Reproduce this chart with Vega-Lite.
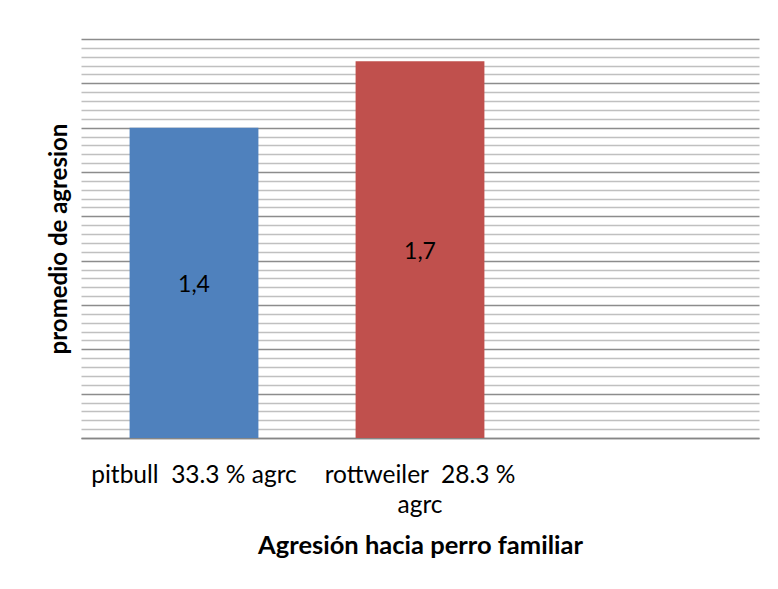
{
  "$schema": "https://vega.github.io/schema/vega-lite/v6.json",
  "autosize": {"type": "none"},
  "padding": {"left": 81, "top": 39, "right": 19, "bottom": 151},
  "width": 678,
  "height": 399,
  "background": "white",
  "config": {
    "view": {"stroke": null},
    "font": "Lato"
  },
  "data": {
    "values": [
      {"cat": "pitbull\u00a0 33.3 % agrc", "value": 1.4},
      {"cat": "rottweiler\u00a0 28.3 % agrc", "value": 1.7}
    ]
  },
  "transform": [
    {"calculate": "datum.value / 2", "as": "mid"},
    {"calculate": "replace(format(datum.value, '.1f'), '.', ',')", "as": "lbl"}
  ],
  "encoding": {
    "x": {
      "field": "cat",
      "type": "nominal",
      "sort": null,
      "scale": {
        "domain": ["pitbull\u00a0 33.3 % agrc", "rottweiler\u00a0 28.3 % agrc", " "],
        "paddingInner": 0.43,
        "paddingOuter": 0.215
      },
      "axis": {
        "title": "Agresión hacia perro familiar",
        "titleFont": "Lato",
        "titleFontSize": 25.5,
        "titleFontWeight": "bold",
        "titleColor": "#000000",
        "titlePadding": 17,
        "labelAngle": 0,
        "labelFont": "Lato",
        "labelFontSize": 24.5,
        "labelColor": "#000000",
        "labelPadding": 25,
        "labelLineHeight": 30,
        "labelLimit": 0,
        "labelExpr": "datum.value == 'rottweiler\u00a0 28.3 % agrc' ? ['rottweiler\u00a0 28.3 %', 'agrc'] : datum.value",
        "ticks": false,
        "domain": true,
        "domainColor": "#868686",
        "domainWidth": 1.5,
        "grid": false
      }
    }
  },
  "layer": [
    {
      "mark": {"type": "bar"},
      "encoding": {
        "y": {
          "field": "value",
          "type": "quantitative",
          "scale": {"domain": [0, 1.8], "nice": false},
          "axis": {
            "title": "promedio de agresion",
            "titleFont": "Lato",
            "titleFontSize": 24,
            "titleFontWeight": "bold",
            "titleColor": "#000000",
            "titlePadding": 10,
            "minExtent": 0,
            "labels": false,
            "ticks": false,
            "domain": false,
            "grid": true,
            "tickCount": 200,
            "values": [0, 0.04, 0.08, 0.12, 0.16, 0.2, 0.24, 0.28, 0.32, 0.36, 0.4, 0.44, 0.48, 0.52, 0.56, 0.6, 0.64, 0.68, 0.72, 0.76, 0.8, 0.84, 0.88, 0.92, 0.96, 1.0, 1.04, 1.08, 1.12, 1.16, 1.2, 1.24, 1.28, 1.32, 1.36, 1.4, 1.44, 1.48, 1.52, 1.56, 1.6, 1.64, 1.68, 1.72, 1.76, 1.8],
            "gridColor": {
              "condition": {"test": "abs(datum.value / 0.2 - round(datum.value / 0.2)) < 0.01", "value": "#8c8c8c"},
              "value": "#c0c0c0"
            },
            "gridWidth": 1.5
          }
        },
        "color": {
          "field": "cat",
          "type": "nominal",
          "scale": {
            "domain": ["pitbull\u00a0 33.3 % agrc", "rottweiler\u00a0 28.3 % agrc"],
            "range": ["#4f81bd", "#c0504d"]
          },
          "legend": null
        }
      }
    },
    {
      "mark": {"type": "text", "font": "Lato", "fontSize": 23, "color": "#000000", "baseline": "middle", "align": "center", "dy": 2},
      "encoding": {
        "y": {"field": "mid", "type": "quantitative"},
        "text": {"field": "lbl", "type": "nominal"}
      }
    }
  ]
}
